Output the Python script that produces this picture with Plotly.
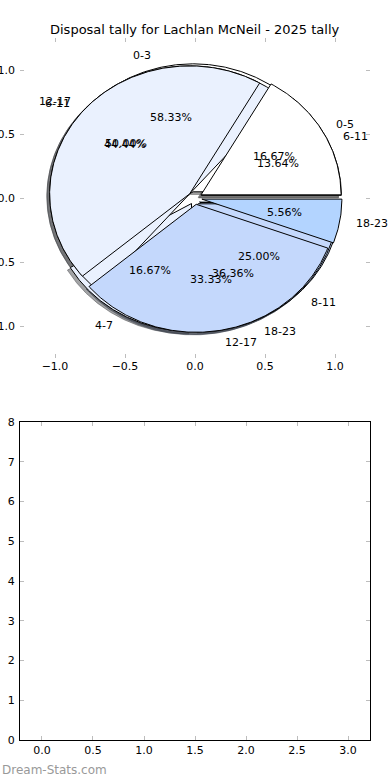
import numpy as np
import plotly.graph_objects as go

# ---- data ----
labels_a = ["0-3", "4-7", "8-11"]
values_a = [7, 2, 3]
labels_c = ["6-11", "12-17", "18-23"]
values_c = [3, 11, 8]
labels_b = ["0-5", "6-11", "12-17", "18-23"]
values_b = [3, 8, 6, 1]
pie_colors = ["#ffffff", "#eaf1fe", "#c4d8fc", "#b3d4ff"]
explode = 0.05
x_ticks_top = [-1.0, -0.5, 0.0, 0.5, 1.0]
x_ticks_bottom = [0.0, 0.5, 1.0, 1.5, 2.0, 2.5, 3.0]
y_ticks_bottom = [0, 1, 2, 3, 4, 5, 6, 7, 8]

W, H = 390, 780
FONT = "DejaVu Sans"


def wedges(values):
    v = np.asarray(values, dtype=float)
    frac = v / v.sum()
    t2 = np.cumsum(frac) * 360.0
    t1 = t2 - frac * 360.0
    out = []
    for a, b, f in zip(t1, t2, frac):
        mid = np.deg2rad((a + b) / 2)
        cx, cy = explode * np.cos(mid), explode * np.sin(mid)
        th = np.deg2rad(np.linspace(a, b, max(int(b - a) * 2, 4)))
        xs = np.concatenate([[cx], cx + np.cos(th), [cx]])
        ys = np.concatenate([[cy], cy + np.sin(th), [cy]])
        out.append((xs, ys, mid, cx, cy, f))
    return out


def shade(hexc):
    r, g, b = (int(hexc[i:i + 2], 16) for i in (1, 3, 5))
    return "rgba(%d,%d,%d,0.5)" % (r * 0.3, g * 0.3, b * 0.3)


pies = [(labels_a, values_a), (labels_c, values_c), (labels_b, values_b)]
fig = go.Figure()

# shadows (below all wedges)
for labs, vals in pies:
    for i, (xs, ys, mid, cx, cy, f) in enumerate(wedges(vals)):
        c = shade(pie_colors[i % len(pie_colors)])
        fig.add_trace(go.Scatter(x=xs - 0.02, y=ys - 0.02, mode="lines", fill="toself",
                                 fillcolor=c, line=dict(color=c, width=1),
                                 hoverinfo="skip", showlegend=False, xaxis="x", yaxis="y"))
# wedges
for labs, vals in pies:
    for i, (xs, ys, mid, cx, cy, f) in enumerate(wedges(vals)):
        fig.add_trace(go.Scatter(x=xs, y=ys, mode="lines", fill="toself",
                                 fillcolor=pie_colors[i % len(pie_colors)],
                                 line=dict(color="black", width=1),
                                 hoverinfo="skip", showlegend=False, xaxis="x", yaxis="y"))

annotations = []
for labs, vals in pies:
    for lab, (xs, ys, mid, cx, cy, f) in zip(labs, wedges(vals)):
        xt = cx + 1.1 * np.cos(mid)
        yt = cy + 1.1 * np.sin(mid)
        annotations.append(dict(x=xt, y=yt, xref="x", yref="y", text=lab, showarrow=False,
                                xanchor="left" if xt > 0 else "right", yanchor="middle",
                                font=dict(family=FONT, size=11, color="black")))
        xp = cx + 0.6 * np.cos(mid)
        yp = cy + 0.6 * np.sin(mid)
        annotations.append(dict(x=xp, y=yp, xref="x", yref="y", text="%.2f%%" % (f * 100),
                                showarrow=False, xanchor="center", yanchor="middle",
                                font=dict(family=FONT, size=11, color="black")))

annotations.append(dict(x=0.5, y=1 - 30 / H, xref="paper", yref="paper",
                        text="Disposal tally for Lachlan McNeil - 2025 tally", showarrow=False,
                        xanchor="center", yanchor="middle",
                        font=dict(family=FONT, size=13, color="black")))
annotations.append(dict(x=0, y=1 - 770 / H, xref="paper", yref="paper", text="Dream-Stats.com",
                        showarrow=False, xanchor="left", yanchor="middle",
                        font=dict(family=FONT, size=12, color="#999999")))

# empty trace to instantiate the bottom axes
fig.add_trace(go.Scatter(x=[], y=[], xaxis="x2", yaxis="y2", showlegend=False))

tick_common = dict(ticks="inside", ticklen=4, tickcolor="#bdbdbd", tickwidth=1,
                   showgrid=False, zeroline=False, automargin=False,
                   tickfont=dict(family=FONT, size=11, color="black"))

fig.update_layout(
    width=W, height=H, margin=dict(l=0, r=0, t=0, b=0),
    paper_bgcolor="white", plot_bgcolor="white", showlegend=False,
    annotations=annotations,
    xaxis=dict(domain=[20 / W, 370 / W], range=[-1.25, 1.25], anchor="y",
               tickvals=x_ticks_top, tickformat=".1f", showline=False, mirror="ticks", **tick_common),
    yaxis=dict(domain=[1 - 358 / H, 1 - 38 / H], range=[-1.25, 1.25], anchor="x",
               tickvals=x_ticks_top, tickformat=".1f", showline=False, mirror="ticks",
               ticklabelstandoff=4, **tick_common),
    xaxis2=dict(domain=[20 / W, 370 / W], range=[-0.2156, 3.2156], anchor="y2",
                tickvals=x_ticks_bottom, tickformat=".1f", showline=True, linecolor="black",
                linewidth=1, mirror="ticks", **tick_common),
    yaxis2=dict(domain=[1 - 740 / H, 1 - 422 / H], range=[0, 8], anchor="x2",
                tickvals=y_ticks_bottom, showline=True, linecolor="black",
                linewidth=1, mirror="ticks", ticklabelstandoff=2, **tick_common),
)

fig.write_html("out.html", config={"displayModeBar": False},
               post_script="document.body.style.margin='0';document.body.style.overflow='hidden';")
